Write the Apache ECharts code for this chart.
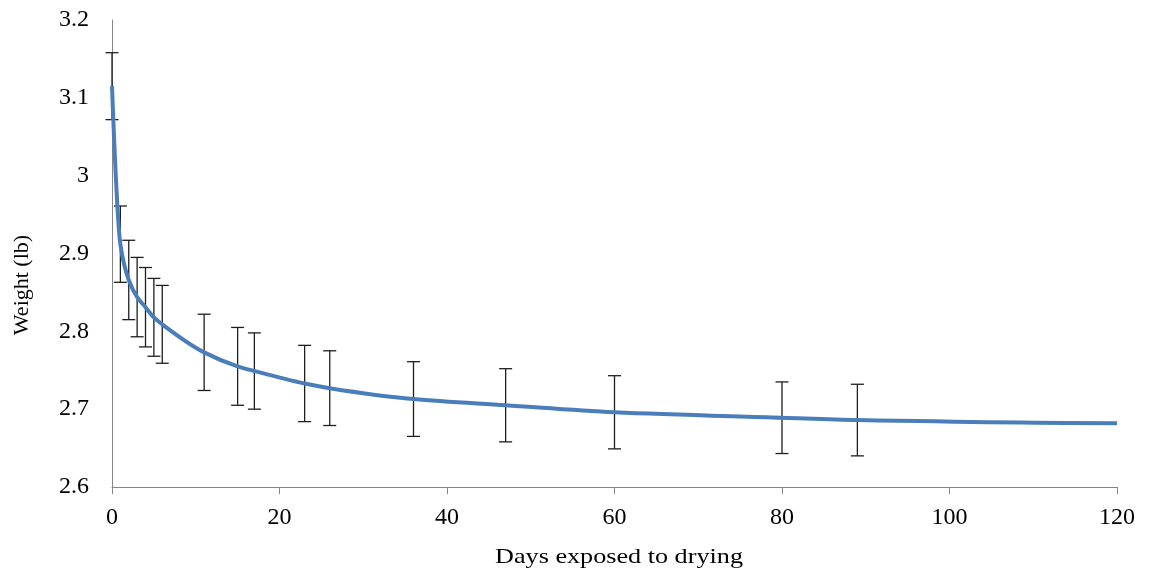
<!DOCTYPE html>
<html>
<head>
<meta charset="utf-8">
<script src="https://cdn.jsdelivr.net/npm/echarts@6/dist/echarts.min.js"></script>
<style>
  html, body { margin: 0; padding: 0; background: #fff; }
  #chart { width: 1151px; height: 574px; }
</style>
</head>
<body>
<div id="chart"></div>
<script>
// Sampling days and mean weights with their error (±) values
const days = [0, 1, 2, 3, 4, 5, 6, 11, 15, 17, 23, 26, 36, 47, 60, 80, 89];
const meanWeight = [3.115, 2.912, 2.866, 2.844, 2.831, 2.818, 2.809, 2.773, 2.755, 2.749, 2.733, 2.727, 2.713, 2.705, 2.696, 2.689, 2.686];
const errorLb = [0.043, 0.049, 0.051, 0.051, 0.051, 0.050, 0.050, 0.049, 0.050, 0.049, 0.049, 0.048, 0.048, 0.047, 0.047, 0.046, 0.046];
// Drying curve runs on to the end of the axis
const curveEndDay = 120;
const curveEndWeight = 2.682;

const xTicks = [0, 20, 40, 60, 80, 100, 120];

const FONT = "'Liberation Serif', 'DejaVu Serif', serif";
const AXIS_GRAY = '#868686';

const curveData = days.map((d, i) => [d, meanWeight[i]]).concat([[curveEndDay, curveEndWeight]]);
const errData = days.map((d, i) => [d, meanWeight[i] - errorLb[i], meanWeight[i] + errorLb[i]]);

// Shape-preserving end tangent (three-point, clamped)
function endTangent(h0, h1, d0, d1) {
  let m = ((2 * h0 + h1) * d0 - h0 * d1) / (h0 + h1);
  if (Math.sign(m) !== Math.sign(d0)) m = 0;
  else if (Math.sign(d0) !== Math.sign(d1) && Math.abs(m) > Math.abs(3 * d0)) m = 3 * d0;
  return m;
}

// Monotone cubic (Fritsch–Carlson) path through pixel points: no overshoot between samples
function monotonePath(pts) {
  const n = pts.length;
  const h = [], d = [];
  for (let k = 0; k < n - 1; k++) {
    h[k] = pts[k + 1][0] - pts[k][0];
    d[k] = (pts[k + 1][1] - pts[k][1]) / h[k];
  }
  const m = new Array(n);
  m[0] = endTangent(h[0], h[1], d[0], d[1]);
  m[n - 1] = endTangent(h[n - 2], h[n - 3], d[n - 2], d[n - 3]);
  for (let k = 1; k < n - 1; k++) {
    if (d[k - 1] * d[k] <= 0) { m[k] = 0; continue; }
    const w1 = 2 * h[k] + h[k - 1];
    const w2 = h[k] + 2 * h[k - 1];
    m[k] = (w1 + w2) / (w1 / d[k - 1] + w2 / d[k]);
  }
  let p = 'M' + pts[0][0] + ',' + pts[0][1];
  for (let k = 0; k < n - 1; k++) {
    const c1x = pts[k][0] + h[k] / 3, c1y = pts[k][1] + m[k] * h[k] / 3;
    const c2x = pts[k + 1][0] - h[k] / 3, c2y = pts[k + 1][1] - m[k + 1] * h[k] / 3;
    p += 'C' + c1x + ',' + c1y + ',' + c2x + ',' + c2y + ',' + pts[k + 1][0] + ',' + pts[k + 1][1];
  }
  return p;
}

const chart = echarts.init(document.getElementById('chart'), null, { renderer: 'canvas' });

chart.setOption({
  animation: false,
  backgroundColor: '#ffffff',
  grid: { left: 112, right: 34, top: 20, bottom: 87, containLabel: false },
  xAxis: {
    type: 'value',
    min: xTicks[0],
    max: xTicks[xTicks.length - 1],
    interval: xTicks[1] - xTicks[0],
    axisLine: { show: true, onZero: false, lineStyle: { color: AXIS_GRAY, width: 1 } },
    axisTick: { show: true, inside: false, length: 7, lineStyle: { color: AXIS_GRAY, width: 1 } },
    splitLine: { show: false },
    axisLabel: { color: '#000', fontFamily: FONT, fontSize: 24, margin: 19 }
  },
  yAxis: {
    type: 'value',
    min: 2.6,
    max: 3.2,
    interval: 0.1,
    axisLine: { show: true, onZero: false, lineStyle: { color: AXIS_GRAY, width: 1 } },
    axisTick: { show: false },
    splitLine: { show: false },
    axisLabel: {
      color: '#000', fontFamily: FONT, fontSize: 24, margin: 23,
      padding: [5, 0, 0, 0],
      formatter: v => String(parseFloat(v.toFixed(1)))
    }
  },
  graphic: [
    {
      type: 'text',
      x: 619, y: 557,
      scaleX: 1.19,
      style: {
        text: 'Days exposed to drying',
        font: '22px ' + FONT,
        fill: '#000',
        textAlign: 'center',
        textVerticalAlign: 'middle'
      }
    },
    {
      type: 'text',
      x: 22, y: 285,
      rotation: Math.PI / 2,
      style: {
        text: 'Weight (lb)',
        font: '22px ' + FONT,
        fill: '#000',
        textAlign: 'center',
        textVerticalAlign: 'middle'
      }
    }
  ],
  series: [
    {
      name: 'error',
      type: 'custom',
      z: 2,
      data: errData,
      renderItem: function (params, api) {
        const x = api.value(0);
        const lo = api.coord([x, api.value(1)]);
        const hi = api.coord([x, api.value(2)]);
        const cap = 6.5;
        const style = { stroke: '#1e1e1e', lineWidth: 1.3 };
        return {
          type: 'group',
          children: [
            { type: 'line', shape: { x1: hi[0], y1: hi[1], x2: lo[0], y2: lo[1] }, style },
            { type: 'line', shape: { x1: hi[0] - cap, y1: hi[1], x2: hi[0] + cap, y2: hi[1] }, style },
            { type: 'line', shape: { x1: lo[0] - cap, y1: lo[1], x2: lo[0] + cap, y2: lo[1] }, style }
          ]
        };
      }
    },
    {
      name: 'weight',
      type: 'custom',
      z: 3,
      data: [0],
      renderItem: function (params, api) {
        const pts = curveData.map(p => api.coord(p));
        return {
          type: 'path',
          shape: { pathData: monotonePath(pts) },
          style: { fill: 'none', stroke: '#4a7ebb', lineWidth: 4, lineJoin: 'round', lineCap: 'butt' }
        };
      }
    }
  ]
});
</script>
</body>
</html>
